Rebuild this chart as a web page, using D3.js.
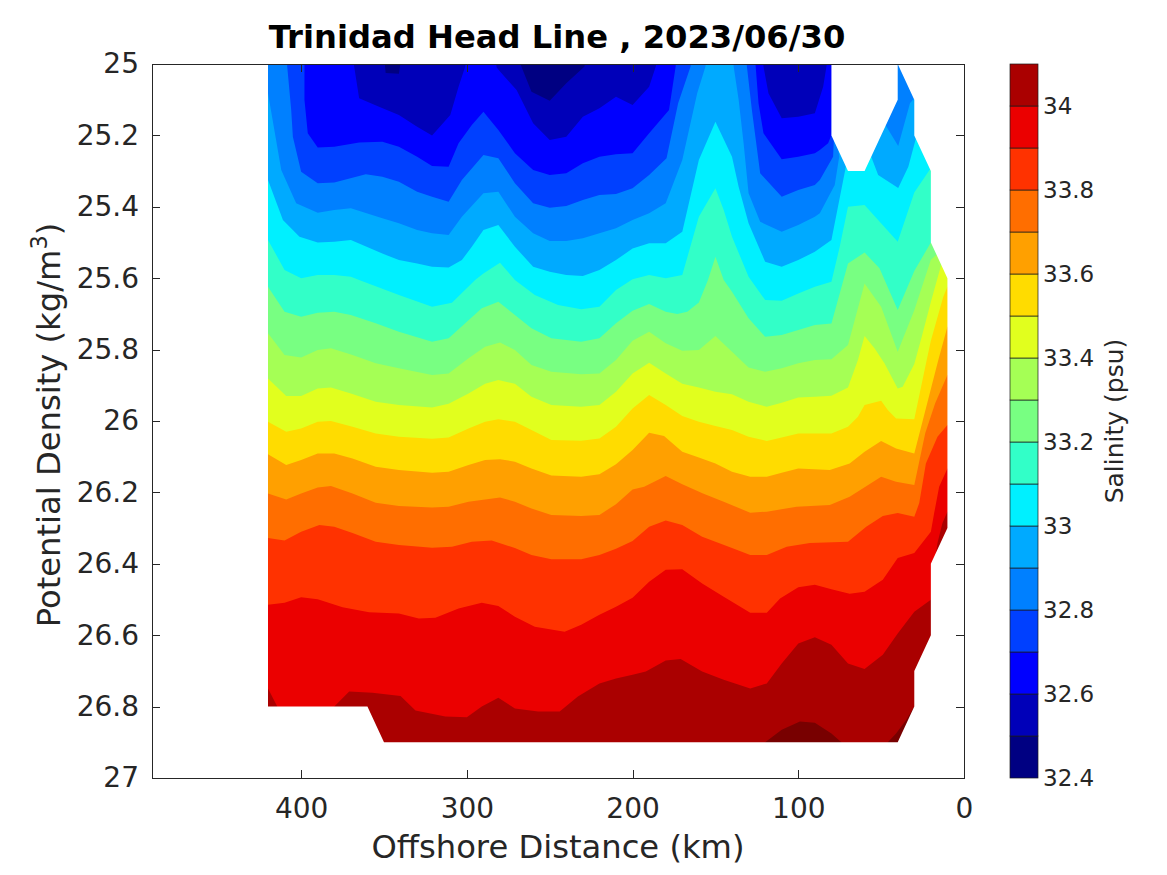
<!DOCTYPE html>
<html>
<head>
<meta charset="utf-8">
<script src="https://cdn.jsdelivr.net/npm/d3@7"></script>
<style>
html, body { margin: 0; padding: 0; background: #fff; }
text { font-family: "DejaVu Sans", sans-serif; fill: #262626; }
</style>
</head>
<body>
<svg id="chart" width="1167" height="875"></svg>
<script>
// isohalines: [offshore km, potential density]
// a density under 25 means the line has left the top of the axes there
var iso325 = [[420,24.9],[350.5,24.95],[349,25.025],[341,25.027],[338.5,24.95],[272,24.95],[261,25.078],[250,25.103],[240,25.054],[229,25.007],[228,24.95],[10,24.95]];
var iso326 = [[420,24.9],[369,24.95],[368,25.007],[365,25.096],[353,25.12],[341,25.143],[330,25.176],[321,25.2],[310,25.143],[305,25.064],[301,25.007],[300,24.95],[284,24.95],[282,25.01],[280,25.021],[270,25.073],[260,25.166],[250,25.213],[240,25.204],[230,25.148],[220,25.124],[210,25.092],[200,25.115],[190,25.064],[186,25.007],[184,24.95],[122,24.95],[121,25.007],[118,25.082],[110,25.152],[100,25.148],[90,25.138],[85,25.064],[83,25.007],[82,24.95],[10,24.95]];
var iso327 = [[420,24.9],[399,24.95],[398,25.0],[398,25.1],[396,25.194],[390,25.234],[380,25.232],[365,25.22],[351,25.218],[341,25.232],[330,25.26],[321,25.286],[311,25.288],[305,25.222],[297,25.171],[290,25.134],[281,25.185],[271,25.25],[260,25.297],[250,25.311],[240,25.306],[230,25.278],[220,25.26],[210,25.253],[200,25.25],[190,25.194],[178,25.129],[174,25.007],[173,24.95],[127,24.95],[125.7,25.007],[124,25.11],[121,25.194],[110,25.267],[100,25.26],[90,25.25],[87,25.241],[82,25.222],[80,25.199],[79.5,24.95],[10,24.95]];
var iso328 = [[420,24.9],[409,24.95],[408.4,25.007],[406,25.129],[405,25.204],[400,25.302],[390,25.334],[380,25.332],[361,25.309],[351,25.316],[341,25.33],[330,25.358],[321,25.372],[311,25.386],[303,25.325],[290,25.255],[281,25.264],[271,25.334],[260,25.39],[250,25.403],[240,25.398],[230,25.381],[220,25.367],[210,25.364],[200,25.348],[190,25.311],[179.5,25.264],[172.5,25.11],[165,25.007],[164,24.95],[132,24.95],[131,25.007],[128,25.129],[123,25.306],[110,25.372],[100,25.353],[90,25.339],[87,25.325],[79,25.26],[78.5,25.208],[78,24.95],[10,24.95]];
var iso329 = [[420,25.082],[412,25.297],[403,25.39],[390,25.417],[380,25.409],[370,25.404],[351,25.432],[341,25.446],[330,25.465],[321,25.474],[311,25.479],[303,25.428],[290,25.362],[281,25.358],[271,25.428],[260,25.474],[250,25.496],[240,25.496],[230,25.488],[220,25.474],[210,25.46],[200,25.437],[190,25.418],[180,25.39],[170,25.269],[161,25.082],[156,25.007],[155,24.95],[140,24.95],[139,25.007],[136,25.1],[133,25.222],[130,25.362],[123,25.442],[110,25.47],[100,25.451],[90,25.428],[87,25.418],[78,25.339],[75.3,25.26],[77,25.2],[77,24.95],[48,24.95],[47.5,25.17],[39.7,25.23],[32.6,25.11],[29,25.09],[20,24.95]];
var iso330 = [[420,25.325],[411,25.437],[401,25.484],[390,25.5],[380,25.498],[370,25.493],[351,25.531],[341,25.549],[330,25.559],[321,25.568],[311,25.57],[303,25.549],[297,25.512],[290,25.465],[281,25.451],[271,25.512],[260,25.568],[250,25.582],[240,25.591],[230,25.594],[220,25.577],[210,25.549],[200,25.517],[190,25.502],[180,25.502],[170,25.47],[160,25.269],[150,25.162],[140,25.26],[136,25.344],[130,25.446],[120,25.554],[110,25.568],[100,25.549],[90,25.526],[80,25.493],[71.3,25.288],[71,24.95],[56.5,24.95],[56,25.26],[51.8,25.311],[39.7,25.347],[33.6,25.288],[29,25.208],[28,24.95]];
var iso331 = [[420,25.493],[410,25.577],[400,25.6],[390,25.591],[380,25.591],[370,25.596],[365,25.605],[341,25.647],[321,25.68],[309,25.669],[295,25.605],[290,25.587],[280,25.557],[271,25.605],[259,25.647],[245,25.675],[231,25.687],[220,25.68],[210,25.633],[200,25.603],[190,25.591],[180,25.6],[170,25.591],[160,25.428],[150,25.348],[145,25.409],[140,25.484],[130,25.596],[120,25.661],[110,25.663],[100,25.643],[90,25.624],[80,25.61],[75,25.512],[70,25.4],[60,25.395],[40,25.498],[30,25.36],[20.5,25.295],[19,25.29]];
var iso332 = [[420,25.624],[410,25.694],[400,25.708],[390,25.697],[380,25.694],[370,25.703],[355,25.726],[341,25.75],[321,25.778],[311,25.768],[301,25.726],[291,25.684],[281,25.666],[271,25.703],[261,25.74],[249,25.768],[231,25.778],[220,25.768],[210,25.726],[200,25.691],[190,25.672],[180,25.694],[173,25.7],[167,25.694],[160,25.668],[154.5,25.605],[150,25.54],[145,25.605],[140,25.638],[130,25.712],[120,25.764],[110,25.759],[100,25.745],[90,25.731],[80,25.727],[70,25.559],[60,25.528],[51,25.572],[40,25.689],[30,25.58],[20,25.5],[10,25.4]];
var iso333 = [[420,25.754],[410,25.815],[400,25.822],[390,25.801],[382,25.796],[369,25.815],[355,25.838],[341,25.852],[321,25.871],[311,25.867],[299,25.824],[289,25.792],[280,25.78],[271,25.801],[261,25.843],[249,25.862],[231,25.869],[220,25.867],[210,25.829],[200,25.775],[190,25.75],[180,25.782],[170,25.803],[160,25.801],[150,25.762],[140,25.806],[130,25.85],[120,25.862],[110,25.852],[100,25.838],[90,25.829],[80,25.827],[70,25.787],[60,25.615],[50,25.68],[40,25.806],[30,25.69],[20,25.548],[15.5,25.53],[10,25.5]];
var iso334 = [[420,25.881],[409,25.93],[400,25.93],[390,25.909],[382,25.906],[370,25.923],[355,25.946],[341,25.955],[321,25.962],[311,25.952],[299,25.923],[289,25.896],[281,25.885],[271,25.896],[261,25.932],[249,25.955],[231,25.96],[220,25.955],[210,25.918],[200,25.867],[190,25.837],[180,25.867],[170,25.896],[160,25.906],[150,25.918],[140,25.925],[130,25.946],[119,25.96],[110,25.949],[100,25.934],[90,25.932],[80,25.929],[70,25.906],[64,25.829],[60,25.762],[54,25.796],[48,25.838],[40,25.909],[37,25.904],[30,25.84],[25.5,25.764],[20,25.667],[13,25.55],[10,25.53]];
var iso335 = [[420,26.002],[409,26.03],[400,26.021],[390,26.002],[382,26.0],[369,26.016],[355,26.035],[341,26.044],[321,26.05],[311,26.046],[299,26.021],[289,26.002],[281,25.995],[271,26.002],[261,26.025],[249,26.053],[231,26.055],[220,26.049],[210,26.016],[200,25.965],[190,25.927],[180,25.955],[170,25.986],[160,26.002],[150,26.014],[140,26.025],[130,26.044],[119,26.056],[110,26.046],[100,26.035],[90,26.035],[80,26.035],[70,26.016],[64,25.988],[60,25.955],[50,25.943],[46,25.969],[41,25.993],[30,25.995],[22.5,25.829],[20,25.775],[12.5,25.652],[10,25.624]];
var iso336 = [[420,26.093],[409,26.123],[400,26.109],[390,26.091],[380,26.091],[369,26.105],[355,26.128],[341,26.137],[321,26.145],[311,26.142],[299,26.123],[289,26.109],[280,26.107],[271,26.114],[261,26.133],[249,26.153],[231,26.156],[220,26.149],[210,26.121],[200,26.081],[190,26.033],[181,26.042],[170,26.086],[160,26.102],[150,26.119],[140,26.142],[129,26.156],[119,26.156],[110,26.145],[100,26.133],[81,26.137],[69,26.119],[60,26.086],[50,26.056],[41,26.077],[30,26.091],[15.5,25.829],[10,25.736]];
var iso337 = [[420,26.203],[409,26.22],[400,26.203],[390,26.186],[382,26.182],[369,26.203],[355,26.229],[341,26.238],[321,26.242],[311,26.24],[299,26.226],[280,26.214],[271,26.226],[261,26.245],[249,26.263],[231,26.266],[220,26.263],[210,26.233],[200,26.192],[193,26.184],[180,26.154],[170,26.177],[157.5,26.203],[145,26.226],[129,26.257],[119,26.254],[101,26.24],[81,26.235],[69,26.212],[50,26.156],[41,26.17],[30,26.179],[23.4,26.034],[17.4,25.95],[10,25.871]];
var iso338 = [[420,26.328],[410,26.335],[400,26.31],[389,26.291],[380,26.296],[369,26.314],[355,26.338],[341,26.347],[321,26.355],[309,26.352],[297,26.338],[285,26.335],[271,26.356],[261,26.375],[249,26.387],[231,26.387],[220,26.375],[210,26.358],[200,26.336],[190,26.296],[180,26.279],[170,26.291],[158,26.324],[140,26.356],[129,26.375],[119,26.375],[107,26.352],[93,26.342],[70,26.338],[59,26.296],[49,26.266],[40,26.258],[30,26.268],[27,26.23],[23,26.119],[16,26.044],[10,26.011]];
var iso339 = [[420,26.515],[410,26.509],[400,26.494],[390,26.499],[375,26.522],[359,26.536],[341,26.539],[329,26.553],[319,26.551],[305,26.525],[291,26.509],[281,26.518],[271,26.548],[259,26.576],[241,26.59],[231,26.571],[220,26.543],[210,26.52],[200,26.495],[190,26.45],[180,26.417],[170,26.415],[158,26.455],[145,26.492],[129,26.537],[119,26.537],[111,26.497],[100,26.466],[90,26.459],[80,26.471],[69,26.484],[60,26.478],[49,26.445],[40,26.384],[30,26.37],[20,26.31],[18,26.258],[15,26.184],[10,26.133]];
var iso340 = [[420,26.749],[414.4,26.8],[414,26.85],[381,26.85],[380,26.8],[371,26.758],[357,26.761],[340,26.77],[331,26.811],[313,26.828],[300,26.83],[291,26.8],[281,26.775],[271,26.805],[257,26.814],[244,26.814],[233,26.772],[220,26.735],[210,26.721],[200,26.711],[192,26.702],[180,26.671],[171,26.667],[158,26.702],[145,26.725],[129,26.749],[119,26.735],[110,26.679],[100,26.623],[90,26.606],[80,26.627],[70,26.679],[60,26.695],[49,26.655],[40,26.595],[30,26.534],[20,26.501],[19.5,26.45],[16,26.342],[13,26.286],[10,26.254]];
var iso341 = [[420,26.95],[125,26.92],[120,26.9],[110,26.865],[99,26.842],[90,26.845],[80,26.875],[74,26.9],[73,26.92],[46,26.92],[46,26.9],[41,26.875],[35,26.838],[30,26.8],[10,26.8]];

// outline of where there is data
var dataOutline = [[420,25],[80,25],[80,25.2],[70,25.3],[60,25.3],[40,25.1],[40,25],[30,25.1],[30,25.2],[20,25.3],[20,25.5],[10,25.6],[10,26.3],[20,26.4],[20,26.6],[30,26.7],[30,26.8],[40,26.9],[350,26.9],[360,26.8],[420,26.8]];

var isolines = [iso325, iso326, iso327, iso328, iso329, iso330, iso331, iso332, iso333, iso334, iso335, iso336, iso337, iso338, iso339, iso340, iso341];
var bandEdges = [32.4,32.5,32.6,32.7,32.8,32.9,33,33.1,33.2,33.3,33.4,33.5,33.6,33.7,33.8,33.9,34,34.1];
var bandColors = ["#000082","#0000b9","#0000ff","#0040ff","#0080ff","#00aaff","#00f0ff","#32ffc8","#78ff82","#a5ff55","#e1ff1e","#ffdc00","#ffa000","#ff6e00","#ff3200","#eb0000","#aa0000","#780000"];

var xTicks = [400,300,200,100,0];
var yTicks = [25,25.2,25.4,25.6,25.8,26,26.2,26.4,26.6,26.8,27];
var barTicks = [32.4,32.6,32.8,33,33.2,33.4,33.6,33.8,34];

var svg = d3.select("#chart");
var x = d3.scaleLinear().domain([490,0]).range([152,964]);
var y = d3.scaleLinear().domain([25,27]).range([64,778]);
var bar = d3.scaleLinear().domain([32.4,34.1]).range([778,64]);
var fmt = d3.format("~g");
var line = d3.line().x(function(d) { return x(d[0]); }).y(function(d) { return y(d[1]); });

// a mask, not a clip: a clip lets lower bands show along the outline
svg.append("mask").attr("id", "dataMask").attr("maskUnits", "userSpaceOnUse")
    .attr("x", 0).attr("y", 0).attr("width", 1167).attr("height", 875)
    .append("path").attr("d", line(dataOutline) + "Z").attr("fill", "#fff");

var field = svg.append("g").attr("mask", "url(#dataMask)");
field.append("path").attr("d", line(dataOutline) + "Z").attr("fill", bandColors[0]);

// each band fills everything under its isohaline, saltier ones paint over it
isolines.forEach(function(iso, i) {
    var first = iso[0], last = iso[iso.length - 1];
    var pts = [[425, first[1]]].concat(iso, [[5, last[1]], [5, 27.2], [425, 27.2]]);
    field.append("path").attr("d", line(pts) + "Z").attr("fill", bandColors[i + 1]);
});

// axes box, ticks point inward
function styleAxis(g) {
    g.selectAll("path, line").attr("stroke", "#262626").attr("stroke-width", 1).attr("shape-rendering", "crispEdges");
    g.selectAll("text").attr("font-size", 28).attr("fill", "#262626");
}
svg.append("g").attr("transform", "translate(0,778)")
    .call(d3.axisBottom(x).tickValues(xTicks).tickSize(-8).tickSizeOuter(0).tickPadding(20).tickFormat(fmt)).call(styleAxis);
svg.append("g").attr("transform", "translate(0,64)")
    .call(d3.axisTop(x).tickValues(xTicks).tickSize(-8).tickSizeOuter(0).tickFormat("")).call(styleAxis);
svg.append("g").attr("transform", "translate(152,0)")
    .call(d3.axisLeft(y).tickValues(yTicks).tickSize(-8).tickSizeOuter(0).tickPadding(13).tickFormat(fmt)).call(styleAxis);
svg.append("g").attr("transform", "translate(964,0)")
    .call(d3.axisRight(y).tickValues(yTicks).tickSize(-8).tickSizeOuter(0).tickFormat("")).call(styleAxis);

svg.append("text").attr("x", 557).attr("y", 48).attr("text-anchor", "middle")
    .attr("font-size", 32.2).attr("font-weight", "bold").style("fill", "#000")
    .text("Trinidad Head Line , 2023/06/30");
svg.append("text").attr("x", 558).attr("y", 858).attr("text-anchor", "middle")
    .attr("font-size", 32.2).text("Offshore Distance (km)");

var yLabel = svg.append("text").attr("transform", "translate(60,425) rotate(-90)")
    .attr("text-anchor", "middle").attr("font-size", 32.2);
yLabel.append("tspan").text("Potential Density (kg/m");
yLabel.append("tspan").attr("dy", -13).attr("font-size", 22.5).text("3");
yLabel.append("tspan").attr("dy", 13).text(")");

// colorbar
var barG = svg.append("g");
bandEdges.slice(0, -1).forEach(function(s, i) {
    barG.append("rect").attr("x", 1010).attr("width", 28)
        .attr("y", bar(bandEdges[i + 1])).attr("height", bar(s) - bar(bandEdges[i + 1]))
        .attr("fill", bandColors[i]).attr("stroke", "#1a1a1a").attr("stroke-width", 0.7);
});
svg.append("g").attr("transform", "translate(1038,0)")
    .call(d3.axisRight(bar).tickValues(barTicks).tickSize(0).tickSizeOuter(0).tickPadding(5).tickFormat(fmt))
    .call(function(g) {
        g.select(".domain").remove();
        g.selectAll("text").attr("font-size", 23).attr("fill", "#262626");
    });
svg.append("text").attr("transform", "translate(1123,421) rotate(-90)")
    .attr("text-anchor", "middle").attr("font-size", 25).text("Salinity (psu)");
</script>
</body>
</html>
